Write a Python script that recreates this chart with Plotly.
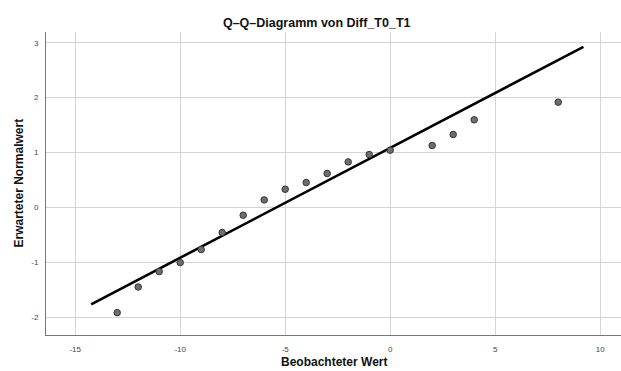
import plotly.graph_objects as go

# Observed values (x) and expected normal values (y)
observed = [-13, -12, -11, -10, -9, -8, -7, -6, -5, -4, -3, -2, -1, 0, 2, 3, 4, 8]
expected = [-1.913, -1.446, -1.166, -1.002, -0.765, -0.455, -0.140, 0.139, 0.333,
            0.455, 0.619, 0.831, 0.965, 1.044, 1.129, 1.330, 1.596, 1.918]

# Reference normal line endpoints
line_x = [-14.24, 9.2]
line_y = [-1.762, 2.925]

x_ticks = [-15, -10, -5, 0, 5, 10]
y_ticks = [-2, -1, 0, 1, 2, 3]

W, H = 621, 371
L, R, T, B = 46, 0, 32, 36

fig = go.Figure()
fig.add_trace(go.Scatter(
    x=line_x, y=line_y, mode="lines",
    line=dict(color="black", width=2.6), hoverinfo="skip", showlegend=False))
fig.add_trace(go.Scatter(
    x=observed, y=expected, mode="markers",
    marker=dict(size=6.5, color="#6e6e6e", line=dict(color="#333333", width=1)),
    showlegend=False))

font_fam = "Liberation Sans, Arial, sans-serif"
fig.update_layout(
    width=W, height=H,
    margin=dict(l=L, r=R, t=T, b=B, pad=0, autoexpand=False),
    paper_bgcolor="white", plot_bgcolor="white",
    font=dict(family=font_fam, color="#333333"),
    title=dict(text="<b>Q–Q–Diagramm von Diff_T0_T1</b>",
               x=0.51, xref="container", xanchor="center",
               y=1 - 22.6 / H, yref="container", yanchor="middle",
               font=dict(size=12.5, color="#111111", family=font_fam)),
    xaxis=dict(range=[-16.39, 10.99], tickvals=x_ticks, ticktext=[str(v) for v in x_ticks],
               showgrid=True, gridcolor="#d4d4d4", gridwidth=1, zeroline=False,
               showline=True, linecolor="#777777", linewidth=1,
               ticks="", tickfont=dict(size=8, color="#444444"), ticklabelstandoff=6),
    yaxis=dict(range=[-2.32, 3.195], tickvals=y_ticks, ticktext=[str(v) for v in y_ticks],
               showgrid=True, gridcolor="#d4d4d4", gridwidth=1, zeroline=False,
               showline=True, linecolor="#777777", linewidth=1,
               ticks="", tickfont=dict(size=8, color="#444444"), ticklabelstandoff=5),
    annotations=[
        dict(text="<b>Beobachteter Wert</b>", xref="paper", yref="paper",
             x=0.5, y=-(362 - 335) / (H - T - B), xanchor="center", yanchor="middle",
             showarrow=False, font=dict(size=12, color="#111111")),
        dict(text="<b>Erwarteter Normalwert</b>", xref="paper", yref="paper",
             x=-(L - 18) / (W - L - R), y=0.5, xanchor="center", yanchor="middle",
             textangle=-90, showarrow=False, font=dict(size=12, color="#111111")),
    ],
)

fig.write_html("out.html",
               config={"displayModeBar": False},
               post_script="document.body.style.margin='0';document.body.style.overflow='hidden';")
